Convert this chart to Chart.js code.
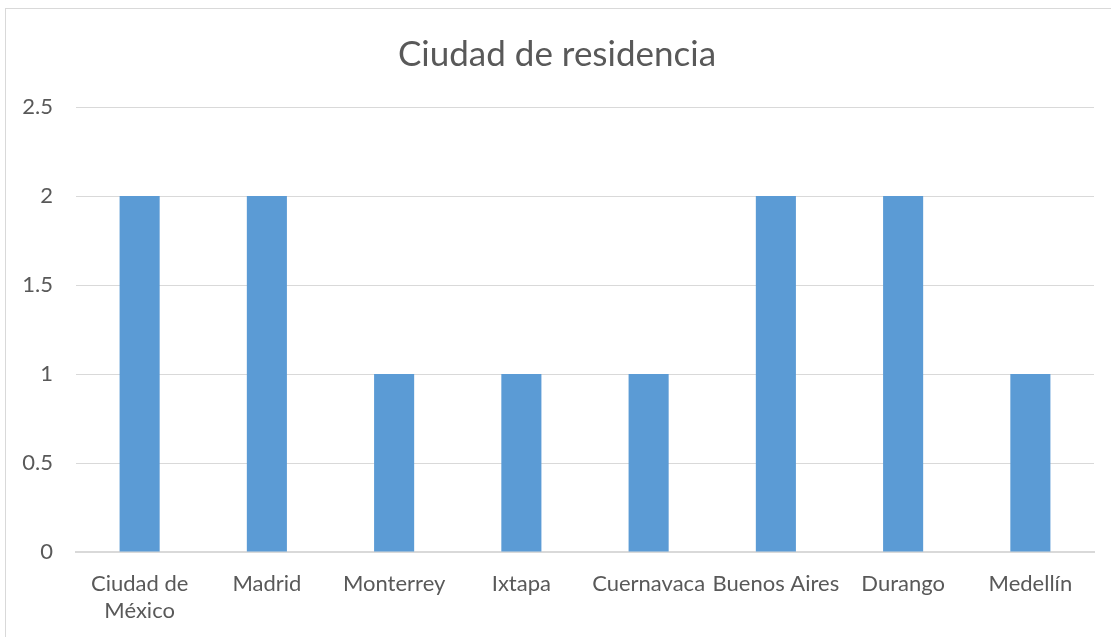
<!DOCTYPE html>
<html lang="es">
<head>
<meta charset="utf-8">
<title>Ciudad de residencia</title>
<script src="https://cdn.jsdelivr.net/npm/chart.js@4"></script>
<style>
  html, body { margin: 0; padding: 0; background: #fff; overflow: hidden; }
  #frame {
    position: absolute; left: 5px; top: 8px;
    width: 1200px; height: 700px;
    border: 1px solid #d9d9d9; box-sizing: border-box;
  }
  #wrap { position: absolute; left: 0; top: 0; width: 1111px; height: 637px; }
</style>
</head>
<body>
<div id="frame"></div>
<div id="wrap"><canvas id="chart"></canvas></div>
<script>
// Ciudad de residencia - conteo por ciudad
const ciudades = [
  ['Ciudad de', 'México'],
  'Madrid',
  'Monterrey',
  'Ixtapa',
  'Cuernavaca',
  'Buenos Aires',
  'Durango',
  'Medellín'
];
const conteo = [2, 2, 1, 1, 1, 2, 2, 1];
const ejeY = { min: 0, max: 2.5, paso: 0.5 };

const textColor = '#595959';
const gridColor = '#d9d9d9';

const ctx = document.getElementById('chart').getContext('2d');
new Chart(ctx, {
  type: 'bar',
  data: {
    labels: ciudades,
    datasets: [{
      data: conteo,
      backgroundColor: '#5b9bd5',
      borderWidth: 0,
      barPercentage: 0.315,
      categoryPercentage: 1
    }]
  },
  options: {
    responsive: true,
    maintainAspectRatio: false,
    animation: false,
    // left padding nudges the title toward the centre of the frame
    layout: { padding: { left: 20, right: 17, top: 0, bottom: 0 } },
    plugins: {
      legend: { display: false },
      tooltip: { enabled: false },
      title: {
        display: true,
        text: 'Ciudad de residencia',
        color: textColor,
        font: { family: 'Lato', size: 35, weight: 'normal', lineHeight: 1.2 },
        padding: { top: 34, bottom: 31 }
      }
    },
    scales: {
      x: {
        grid: { display: false, drawTicks: false },
        border: { display: true, color: gridColor, width: 2 },
        ticks: {
          color: textColor,
          font: { family: 'Lato', size: 22, lineHeight: 1.25 },
          padding: 18,
          maxRotation: 0,
          autoSkip: false
        },
        afterFit: (scale) => { scale.height = 85; }
      },
      y: {
        min: ejeY.min,
        max: ejeY.max,
        grid: { color: gridColor, lineWidth: 1, drawTicks: false },
        border: { display: false },
        ticks: {
          stepSize: ejeY.paso,
          color: textColor,
          font: { family: 'Lato', size: 22 },
          padding: 23,
          callback: (v) => String(v)
        },
        afterFit: (scale) => { scale.width = 56; }
      }
    }
  }
});
</script>
</body>
</html>
